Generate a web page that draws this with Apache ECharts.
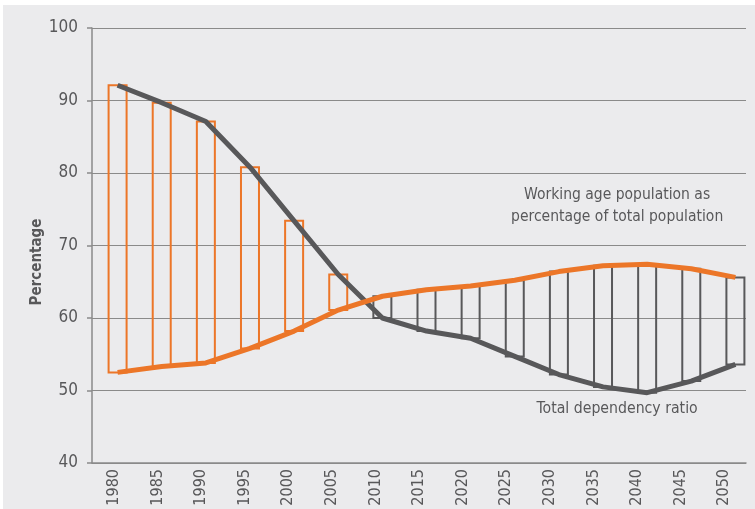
<!DOCTYPE html>
<html>
<head>
<meta charset="utf-8">
<style>
  html, body { margin: 0; padding: 0; background: #fff; }
  #chart { width: 755px; height: 509px; }
</style>
<script src="https://cdn.jsdelivr.net/npm/echarts@6/dist/echarts.min.js"></script>
</head>
<body>
<div id="chart"></div>
<script>
var years = [1980, 1985, 1990, 1995, 2000, 2005, 2010, 2015, 2020, 2025, 2030, 2035, 2040, 2045, 2050]
// working age population as % of total population
var working = [52.5, 53.3, 53.8, 55.8, 58.2, 61.1, 63.0, 63.9, 64.4, 65.2, 66.4, 67.2, 67.4, 66.8, 65.6]
// total dependency ratio
var dependency = [92.1, 89.7, 87.1, 80.8, 73.4, 66.0, 60.0, 58.2, 57.2, 54.7, 52.2, 50.5, 49.7, 51.3, 53.6]
var yTicks = [40, 50, 60, 70, 80, 90, 100]

var ORANGE = '#ec7628'
var DARK = '#58585a'
var FONT = "'Liberation Sans Narrow', 'DejaVu Sans Condensed', sans-serif"

var chart = echarts.init(document.getElementById('chart'), null, { renderer: 'canvas' })

// gap bars between the two lines
var gapData = years.map(function (y, i) {
  return [y, working[i], dependency[i]]
})

var bgRect = {
  type: 'rect', z: -10, silent: true,
  shape: { x: 3, y: 5, width: 752, height: 504 },
  style: { fill: '#ebebed' }
}

var option = {
  animation: false,
  backgroundColor: 'transparent',
  graphic: [bgRect],
  grid: { left: 92, right: 9, top: 28, bottom: 46, containLabel: false },
  xAxis: [{
    type: 'category',
    data: years.map(String),
    boundaryGap: true,
    axisLine: { lineStyle: { color: '#8a8a8a', width: 1.5 } },
    axisTick: { length: 5, lineStyle: { color: '#8a8a8a', width: 1.5 } },
    axisLabel: { rotate: 90, margin: 6, color: '#58585a', fontSize: 16, fontFamily: FONT }
  }, {
    type: 'value',
    show: false,
    min: 1977.1,
    max: 2051.2
  }],
  yAxis: {
    type: 'value',
    min: yTicks[0],
    max: yTicks[yTicks.length - 1],
    interval: 10,
    axisLine: { show: true, lineStyle: { color: '#8a8a8a', width: 1.5 } },
    axisTick: { show: true, length: 5, lineStyle: { color: '#8a8a8a', width: 1.5 } },
    axisLabel: { color: '#58585a', fontSize: 17, fontFamily: FONT, margin: 14 },
    splitLine: { lineStyle: { color: '#8a8a8a', width: 1.2 } }
  },
  series: [{
    type: 'custom',
    xAxisIndex: 1,
    data: gapData,
    z: 2,
    renderItem: function (params, api) {
      var x = api.value(0)
      var lo = api.value(1)
      var hi = api.value(2)
      var p1 = api.coord([x, Math.max(lo, hi)])
      var p2 = api.coord([x, Math.min(lo, hi)])
      var w = 18
      return {
        type: 'rect',
        shape: { x: p1[0] - w / 2, y: p1[1], width: w, height: p2[1] - p1[1] },
        style: { fill: 'none', stroke: hi > lo ? ORANGE : DARK, lineWidth: 2 }
      }
    }
  }, {
    type: 'line',
    xAxisIndex: 1,
    data: years.map(function (y, i) { return [y, dependency[i]] }),
    symbol: 'none',
    z: 3,
    lineStyle: { color: DARK, width: 5 }
  }, {
    type: 'line',
    xAxisIndex: 1,
    data: years.map(function (y, i) { return [y, working[i]] }),
    symbol: 'none',
    z: 4,
    lineStyle: { color: ORANGE, width: 5 }
  }]
}

chart.setOption(option)

// annotations placed at data positions
var a1 = chart.convertToPixel({ xAxisIndex: 1, yAxisIndex: 0 }, [2036.6, 75.4])
var a2 = chart.convertToPixel({ xAxisIndex: 1, yAxisIndex: 0 }, [2036.6, 47.5])
chart.setOption({
  graphic: [bgRect, {
    type: 'text', x: 37, y: 262, rotation: Math.PI / 2, z: 10,
    style: {
      text: 'Percentage', align: 'center', verticalAlign: 'middle',
      fill: '#58585a', fontSize: 15, fontWeight: 'bold', fontFamily: FONT
    }
  }, {
    type: 'text', x: a1[0], y: a1[1], z: 10,
    style: {
      text: 'Working age population as\npercentage of total population',
      align: 'center', verticalAlign: 'middle', lineHeight: 22,
      fill: '#58585a', fontSize: 15.5, fontFamily: FONT
    }
  }, {
    type: 'text', x: a2[0], y: a2[1], z: 10,
    style: {
      text: 'Total dependency ratio',
      align: 'center', verticalAlign: 'middle',
      fill: '#58585a', fontSize: 15.7, fontFamily: FONT
    }
  }]
})
</script>
</body>
</html>
